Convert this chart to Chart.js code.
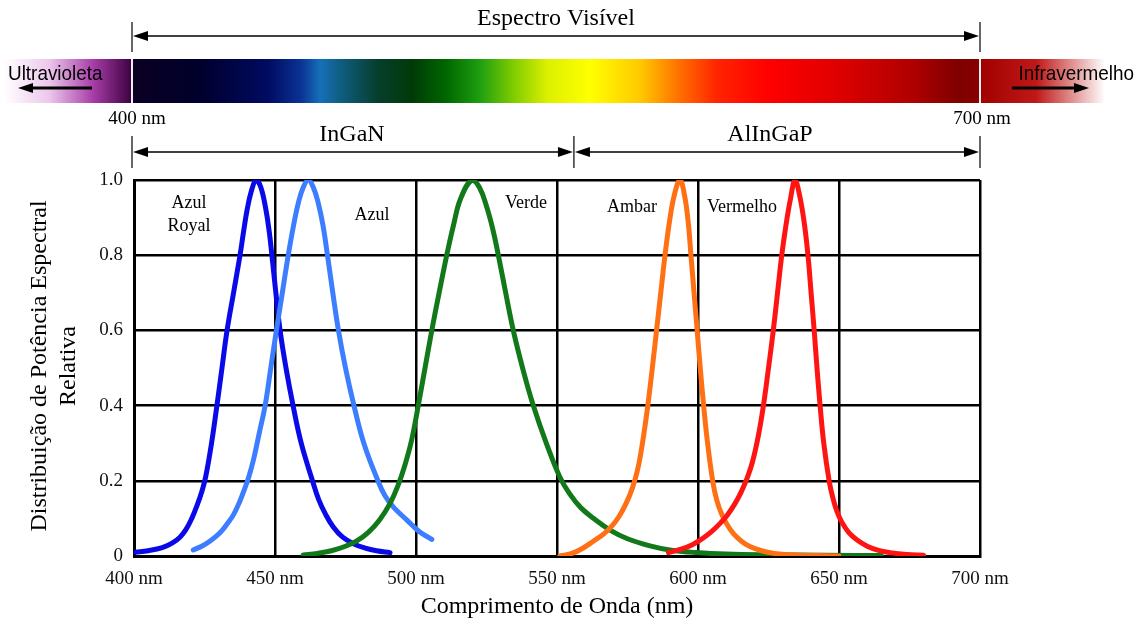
<!DOCTYPE html>
<html>
<head>
<meta charset="utf-8">
<script src="https://cdn.jsdelivr.net/npm/chart.js@4.4.0/dist/chart.umd.min.js"></script>
<style>
  html, body { margin: 0; padding: 0; background: #fff; }
  #wrap { width: 1140px; height: 623px; }
</style>
</head>
<body>
<div id="wrap"><canvas id="chart" width="1140" height="623"></canvas></div>
<script>
// Relative spectral power of each LED (wavelength in nm)
const royalNm  = [400.5, 405, 410, 413.5, 416.3, 418.4, 420.5, 422.4, 424, 425.4, 427.5, 429.4, 431.2, 433, 435.3, 437.6, 438.8, 440.1, 441.6, 443.3,
                  445, 446.8, 448, 448.9, 450.3, 451.8, 453.9, 456.4, 459.3, 463.3, 465.5, 468, 470.6, 474, 478, 482, 486, 490.8];
const royalPow = [0.01, 0.014, 0.022, 0.034, 0.05, 0.07, 0.1, 0.135, 0.17, 0.21, 0.3, 0.4, 0.5, 0.6, 0.7, 0.8, 0.86, 0.92, 0.97, 1.0,
                  0.98, 0.92, 0.86, 0.8, 0.7, 0.6, 0.5, 0.4, 0.3, 0.2, 0.15, 0.11, 0.078, 0.05, 0.032, 0.021, 0.014, 0.009];

const azulNm  = [421, 424, 427, 430.5, 433, 435.3, 437.5, 439.2, 440.7, 442.5, 444.5, 446.5, 448.5, 450.5, 452.6, 454.7, 456.6, 458.3, 460, 461.8,
                 463.6, 465.3, 467, 468.6, 470.5, 472.5, 475, 478, 481.5, 486.5, 489, 492, 496.7, 501, 505.6];
const azulPow = [0.016, 0.026, 0.04, 0.062, 0.085, 0.11, 0.145, 0.178, 0.21, 0.26, 0.33, 0.4, 0.5, 0.6, 0.7, 0.8, 0.88, 0.94, 0.98, 1.0,
                 0.98, 0.94, 0.88, 0.8, 0.7, 0.6, 0.5, 0.4, 0.3, 0.2, 0.16, 0.13, 0.096, 0.066, 0.044];

const verdeNm  = [460, 465, 470, 475, 479, 483, 487, 490.8, 493.5, 496, 498.5, 500.8, 503.2, 505.6, 508.2, 510.9, 513.3, 515.8, 519.8,
                  522.5, 525, 527.2, 529.2, 531.8, 534.5, 537.8, 541.6, 546.2, 551, 554.5, 558.5, 563.5, 568.8, 575, 583, 590, 599.5, 610, 625, 645, 665];
const verdePow = [0.003, 0.007, 0.014, 0.026, 0.04, 0.062, 0.095, 0.14, 0.185, 0.24, 0.31, 0.4, 0.5, 0.6, 0.7, 0.8, 0.88, 0.95, 1.0,
                  0.98, 0.93, 0.87, 0.8, 0.7, 0.6, 0.5, 0.4, 0.3, 0.21, 0.165, 0.128, 0.097, 0.069, 0.046, 0.027, 0.016, 0.009, 0.005, 0.003, 0.002, 0.001];

const ambarNm  = [551, 555, 559, 563, 566.5, 569.5, 572, 574.5, 576.7, 578.6, 580.3, 582.2, 583.8, 585.3, 586.8, 588.3, 589.9, 591.6, 593.6,
                  595.2, 596.5, 597.5, 598.6, 599.7, 600.8, 602, 603.4, 605.2, 606.6, 608.3, 610.2, 612.5, 615.3, 618.4, 622.5, 627, 633, 642, 650];
const ambarPow = [0.0, 0.006, 0.02, 0.04, 0.058, 0.08, 0.105, 0.14, 0.18, 0.23, 0.3, 0.4, 0.5, 0.6, 0.7, 0.8, 0.89, 0.96, 1.0,
                  0.96, 0.89, 0.8, 0.7, 0.6, 0.5, 0.4, 0.3, 0.2, 0.15, 0.113, 0.085, 0.06, 0.04, 0.025, 0.014, 0.007, 0.003, 0.001, 0.0];

const vermNm  = [589.5, 594, 598, 601.5, 605, 608, 610.5, 613, 615.3, 617.3, 619.3, 621.4, 623.2, 625, 626.7, 628.2, 629.7, 631.2, 632.8, 634.4,
                 636, 637.6, 639, 640.1, 641.2, 642.2, 643.3, 644.6, 646.5, 647.8, 649.2, 651, 653.5, 656.3, 660, 664, 668.1, 674, 680];
const vermPow = [0.009, 0.018, 0.03, 0.046, 0.066, 0.088, 0.11, 0.138, 0.17, 0.205, 0.25, 0.32, 0.4, 0.5, 0.6, 0.7, 0.8, 0.88, 0.95, 1.0,
                 0.96, 0.89, 0.8, 0.7, 0.6, 0.5, 0.4, 0.3, 0.2, 0.155, 0.12, 0.09, 0.062, 0.043, 0.026, 0.015, 0.009, 0.004, 0.002];

const seriesNames = ['Azul Royal', 'Azul', 'Verde', 'Ambar', 'Vermelho'];
const seriesColors = ['#0a0ae8', '#3d7dff', '#12791a', '#ff7014', '#ff1414'];

// Axis range and tick step
const xMin = 400, xMax = 700, xStep = 50;
const yMin = 0, yMax = 1, yStep = 0.2;

// Band boundaries in the header (nm)
const visibleStart = 400, visibleEnd = 700, bandSplit = 556;

const SERIF = "'Liberation Serif', 'Times New Roman', serif";
const SANS = "'Liberation Sans', Arial, sans-serif";

function toPoints(xs, ys) {
    return xs.map((x, i) => ({ x: x, y: ys[i] }));
}

const allSeries = [
    toPoints(royalNm, royalPow),
    toPoints(azulNm, azulPow),
    toPoints(verdeNm, verdePow),
    toPoints(ambarNm, ambarPow),
    toPoints(vermNm, vermPow)
];

function arrowHead(ctx, x, y, dir) {
    ctx.beginPath();
    ctx.moveTo(x, y);
    ctx.lineTo(x - dir * 15, y - 5);
    ctx.lineTo(x - dir * 15, y + 5);
    ctx.closePath();
    ctx.fill();
}

function doubleArrow(ctx, x1, x2, y) {
    ctx.beginPath();
    ctx.moveTo(x1 + 4, y);
    ctx.lineTo(x2 - 4, y);
    ctx.stroke();
    arrowHead(ctx, x1 + 1, y, -1);
    arrowHead(ctx, x2 - 1, y, 1);
}

// Header (spectrum bar, arrows), axis titles and curve labels
const decorations = {
    id: 'decorations',
    beforeDraw(chart) {
        const ctx = chart.ctx;
        ctx.save();
        ctx.fillStyle = '#fff';
        ctx.fillRect(0, 0, chart.width, chart.height);
        ctx.restore();
    },
    afterDraw(chart) {
        const ctx = chart.ctx;
        const xs = chart.scales.x;
        const area = chart.chartArea;
        const xa = xs.getPixelForValue(visibleStart) - 2;
        const xb = xs.getPixelForValue(visibleEnd);
        const xm = xs.getPixelForValue(bandSplit);
        ctx.save();

        // spectrum bar
        const barTop = 59, barH = 44;
        const g = ctx.createLinearGradient(xa, 0, xb, 0);
        [[0, '#0b0022'], [0.08, '#00002c'], [0.16, '#000a60'], [0.2, '#0a3496'], [0.222, '#1670b8'],
         [0.25, '#0e5a78'], [0.29, '#063e2c'], [0.33, '#003a08'], [0.37, '#006600'], [0.41, '#1e9e10'],
         [0.45, '#80cc00'], [0.49, '#dcf000'], [0.54, '#ffff00'], [0.6, '#ffc800'], [0.645, '#ff7000'],
         [0.69, '#ff2400'], [0.75, '#ff0000'], [0.83, '#e00000'], [0.92, '#b00000'], [0.975, '#7e0000'], [1, '#8a0000']]
            .forEach(s => g.addColorStop(s[0], s[1]));
        ctx.fillStyle = g;
        ctx.fillRect(xa, barTop, xb - xa, barH);

        const uv = ctx.createLinearGradient(4, 0, xa, 0);
        uv.addColorStop(0, '#ffffff');
        uv.addColorStop(0.35, '#ecc8ec');
        uv.addColorStop(0.7, '#a63ca6');
        uv.addColorStop(1, '#3c0040');
        ctx.fillStyle = uv;
        ctx.fillRect(4, barTop, xa - 4, barH);

        const ir = ctx.createLinearGradient(xb, 0, 1105, 0);
        ir.addColorStop(0, '#a00000');
        ir.addColorStop(0.45, '#c01818');
        ir.addColorStop(1, '#ffffff');
        ctx.fillStyle = ir;
        ctx.fillRect(xb, barTop, 1105 - xb, barH);

        ctx.fillStyle = '#f0f0f0';
        ctx.fillRect(xa - 1, barTop, 2, barH);
        ctx.fillRect(xb - 1, barTop, 2, barH);

        // side labels (narrow sans, like the original)
        ctx.fillStyle = '#000';
        ctx.strokeStyle = '#000';
        ctx.font = '21px ' + SANS;
        ctx.textBaseline = 'middle';
        ctx.save();
        ctx.scale(0.9, 1);
        ctx.textAlign = 'left';
        ctx.fillText('Ultravioleta', 8 / 0.9, 74);
        ctx.textAlign = 'right';
        ctx.fillText('Infravermelho', 1134 / 0.9, 74);
        ctx.restore();
        ctx.lineWidth = 3;
        ctx.beginPath(); ctx.moveTo(30, 88); ctx.lineTo(92, 88); ctx.stroke();
        arrowHead(ctx, 18, 88, -1);
        ctx.beginPath(); ctx.moveTo(1012, 88); ctx.lineTo(1076, 88); ctx.stroke();
        arrowHead(ctx, 1089, 88, 1);

        // top dimension arrows
        ctx.lineWidth = 1.5;
        doubleArrow(ctx, xa, xb, 36);
        doubleArrow(ctx, xa, xm, 152);
        doubleArrow(ctx, xm, xb, 152);
        ctx.lineWidth = 1.2;
        [[xa, 22, 52], [xb, 22, 52], [xa, 136, 168], [xm, 136, 168], [xb, 136, 168]].forEach(t => {
            ctx.beginPath(); ctx.moveTo(t[0], t[1]); ctx.lineTo(t[0], t[2]); ctx.stroke();
        });

        ctx.textAlign = 'center';
        ctx.font = '24px ' + SERIF;
        ctx.fillText('Espectro Visível', (xa + xb) / 2, 19);
        ctx.fillText('InGaN', 352, 135);
        ctx.fillText('AlInGaP', 770, 135);
        ctx.font = '19px ' + SERIF;
        ctx.fillText(visibleStart + ' nm', xa + 5, 119);
        ctx.fillText(visibleEnd + ' nm', xb + 2, 119);

        // curve labels
        ctx.font = '18px ' + SERIF;
        ctx.fillText('Azul', 189, 203);
        ctx.fillText('Royal', 189, 226);
        ctx.fillText('Azul', 372, 215);
        ctx.fillText('Verde', 526, 203);
        ctx.fillText('Ambar', 632, 207);
        ctx.fillText('Vermelho', 742, 207);

        // axis titles
        ctx.font = '24px ' + SERIF;
        ctx.fillText('Comprimento de Onda (nm)', (area.left + area.right) / 2, 607);
        ctx.translate(40, 366);
        ctx.rotate(-Math.PI / 2);
        ctx.fillText('Distribuição de Potência Espectral', 0, 0);
        ctx.fillText('Relativa', 0, 29);
        ctx.restore();
    }
};

new Chart(document.getElementById('chart'), {
    type: 'line',
    data: {
        datasets: allSeries.map((pts, i) => ({
            label: seriesNames[i],
            data: pts,
            borderColor: seriesColors[i],
            backgroundColor: seriesColors[i],
            borderWidth: 5,
            pointRadius: 0,
            fill: false,
            tension: 0.4,
            borderCapStyle: 'round',
            borderJoinStyle: 'round',
            order: 5 - i
        }))
    },
    options: {
        responsive: false,
        animation: false,
        devicePixelRatio: 1,
        layout: { padding: { left: 0, top: 180, right: 160, bottom: 0 } },
        plugins: {
            legend: { display: false },
            tooltip: { enabled: false }
        },
        scales: {
            x: {
                type: 'linear',
                min: xMin,
                max: xMax,
                afterFit(scale) { scale.height = 67; },
                afterBuildTicks(scale) {
                    const t = [];
                    for (let v = xMin; v <= xMax; v += xStep) t.push({ value: v });
                    scale.ticks = t;
                },
                grid: { color: '#000', lineWidth: 2.5, drawTicks: false },
                border: { display: true, color: '#000', width: 3 },
                ticks: {
                    padding: 12,
                    color: '#111',
                    font: { family: SERIF, size: 19 },
                    maxRotation: 0,
                    callback: v => v + ' nm'
                }
            },
            y: {
                min: yMin,
                max: yMax,
                afterFit(scale) { scale.width = 134; },
                afterBuildTicks(scale) {
                    const t = [];
                    for (let i = 0; i <= Math.round((yMax - yMin) / yStep); i++) t.push({ value: yMin + i * yStep });
                    scale.ticks = t;
                },
                grid: { color: '#000', lineWidth: 2.5, drawTicks: false },
                border: { display: true, color: '#000', width: 3 },
                ticks: {
                    padding: 11,
                    color: '#111',
                    font: { family: SERIF, size: 19 },
                    callback: v => v === 0 ? '0' : v.toFixed(1)
                }
            }
        }
    },
    plugins: [decorations]
});
</script>
</body>
</html>
